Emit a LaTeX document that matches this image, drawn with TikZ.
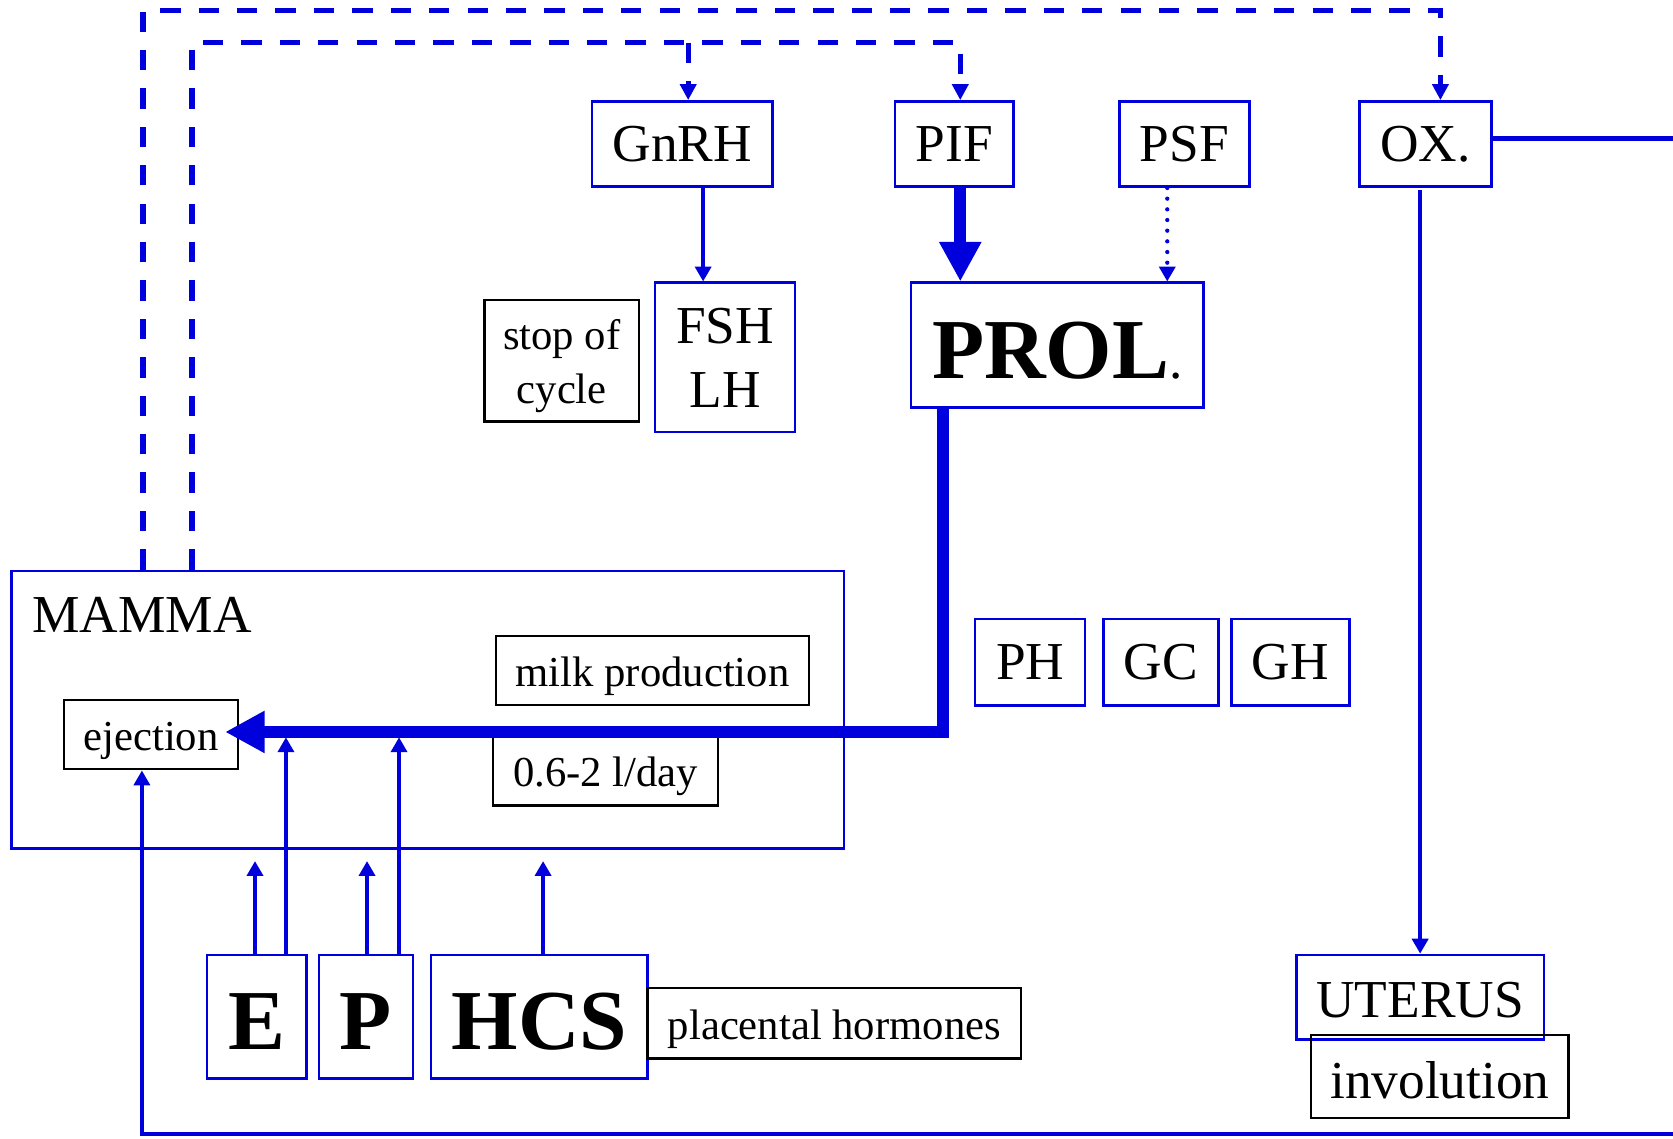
\documentclass[tikz,border=0pt]{standalone}
\usepackage{fontspec}
\setmainfont{Liberation Serif}
\usetikzlibrary{arrows.meta}
\definecolor{bl}{RGB}{0,0,220}
\newcommand\fbig{\fontsize{25}{30}\selectfont}
\newcommand\fmid{\fontsize{20}{25}\selectfont}
\newcommand\fhuge{\fontsize{40}{46}\selectfont\bfseries}
\begin{document}
\begin{tikzpicture}[x=0.5pt,y=-0.5pt,line join=miter,
  hb/.style={draw=bl,line width=1.2pt,inner sep=0pt,align=center,font=\fbig},
  kb/.style={draw=black,line width=1.1pt,inner sep=0pt,align=center,font=\fmid,text height=14.8pt,text depth=0pt},
  bold/.style={text height=31pt,text depth=0pt},
  arr/.style={draw=bl,line width=2pt,-{Triangle[length=7pt,width=7.5pt]}},
  bigarr/.style={draw=bl,line width=5.8pt,-{Triangle[length=18.5pt,width=18.5pt]}},
  dl/.style={draw=bl,line width=2.4pt,dash pattern=on 9.5pt off 8.5pt,-{Triangle[length=7.5pt,width=7.5pt]}},
  dotl/.style={draw=bl,line width=2pt,line cap=round,dash pattern=on 0pt off 5pt,-{Triangle[length=7pt,width=7.5pt,line cap=butt]}}]
\useasboundingbox (0,0) rectangle (1568,1067);
% top row
\node[hb,minimum width=84.5pt,minimum height=40pt] (gnrh) at (639.5,135) {GnRH};
\node[hb,minimum width=55.5pt,minimum height=40pt] (pif) at (894.5,135) {PIF};
\node[hb,minimum width=61pt,minimum height=40pt] (psf) at (1110,135) {PSF};
\node[hb,minimum width=62pt,minimum height=40pt] (ox) at (1336,135) {OX.};
% second row
\node[hb,minimum width=65.5pt,minimum height=70pt] (fsh) at (679.5,335) {FSH\\LH};
\node[kb,text height=39.8pt,text depth=0pt,minimum width=72.5pt,minimum height=57pt] (stop) at (526.5,338) {stop of\\cycle};
\node[hb,bold,minimum width=137pt,minimum height=58.5pt] (prol) at (991,323.5) {{\fhuge PROL}.};
% mamma
\node[draw=bl,line width=1.2pt,minimum width=390pt,minimum height=130pt,inner sep=0pt] (mamma) at (401,665) {};
\node[font=\fbig,anchor=base west,inner sep=0pt] (mammal) at (30,593) {MAMMA};
\node[kb,minimum width=146.5pt,minimum height=32.5pt] (milk) at (611.5,628.5) {milk production};
\node[kb,minimum width=81.5pt,minimum height=32.5pt] (ej) at (141.5,688.5) {ejection};
\node[kb,minimum width=105.5pt,minimum height=33pt] (day) at (567.5,722) {0.6-2 l/day};
% PH GC GH
\node[hb,minimum width=51.5pt,minimum height=40.5pt] (ph) at (965.5,620.5) {PH};
\node[hb,minimum width=54pt,minimum height=40.5pt] (gc) at (1088,620.5) {GC};
\node[hb,minimum width=55.5pt,minimum height=40.5pt] (gh) at (1209.5,620.5) {GH};
% bottom row
\node[hb,bold,minimum width=46.5pt,minimum height=58pt,font=\fhuge] (e) at (240.5,953) {E};
\node[hb,bold,minimum width=44pt,minimum height=58pt,font=\fhuge] (p) at (343,953) {P};
\node[hb,bold,minimum width=101.5pt,minimum height=58pt,font=\fhuge] (hcs) at (505.5,953) {HCS};
\node[kb,minimum width=175pt,minimum height=33pt] (plac) at (782,959) {placental hormones};
\node[hb,text height=19.5pt,text depth=0pt,minimum width=116pt,minimum height=39.5pt] (ut) at (1331,934.5) {UTERUS};
\node[kb,font=\fbig,text height=21pt,text depth=0pt,minimum width=120.5pt,minimum height=39pt] (inv) at (1349.5,1009) {involution};
% free coordinates
\coordinate (o1) at (134,10);
\coordinate (o2) at (1350,10);
\coordinate (i1) at (180,40);
\coordinate (i2) at (900,40);
\coordinate (g1) at (645,40);
\coordinate (c1) at (884,686);
\coordinate (ejtip) at (211,686);
\coordinate (r1) at (1568,130);
\coordinate (r2) at (1568,1063);
\coordinate (b1) at (133,1063);
\coordinate (ox1) at (1331,178);
\coordinate (sh1) at (239,807);
\coordinate (sh2) at (344,807);
\coordinate (sh3) at (509,807);
\coordinate (lg1) at (268,691);
\coordinate (lg2) at (374,691);
% dashed feedback
\draw[dl] (o1 |- mamma.north) -- (o1) -- (o2) -- (o2 |- ox.north);
\draw[dl] (i1 |- mamma.north) -- (i1) -- (i2) -- (i2 |- pif.north);
\draw[dl] (g1) -- (g1 |- gnrh.north);
% hypothalamus arrows
\draw[arr] (gnrh.south -| 659,0) -- (fsh.north -| 659,0);
\draw[bigarr] (pif.south -| i2) -- (prol.north -| i2);
\draw[dotl] (psf.south -| 1094,0) -- (prol.north -| 1094,0);
\draw[bigarr] (prol.south -| c1) -- (c1) -- (ejtip);
% oxytocin
\draw[draw=bl,line width=2.2pt] (ox.east |- r1) -- (r1);
\draw[arr] (ox1) -- (ut.north);
\draw[arr] (r2) -- (b1) -- (ej.south -| b1);
% placental hormones
\draw[arr] (e.north -| sh1) -- (sh1);
\draw[arr] (p.north -| sh2) -- (sh2);
\draw[arr] (hcs.north -| sh3) -- (sh3);
\draw[arr] (e.north -| lg1) -- (lg1);
\draw[arr] (p.north -| lg2) -- (lg2);
\end{tikzpicture}
\end{document}
